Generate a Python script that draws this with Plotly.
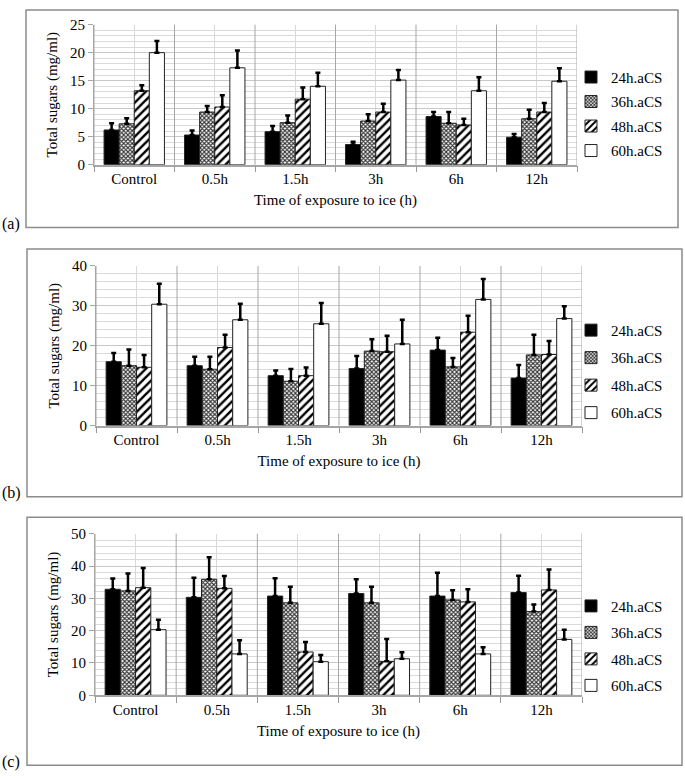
import plotly.graph_objects as go

categories = ["Control", "0.5h", "1.5h", "3h", "6h", "12h"]
series_names = ["24h.aCS", "36h.aCS", "48h.aCS", "60h.aCS"]

# Panel (a)
a_24 = [6.2, 5.3, 5.9, 3.6, 8.6, 4.9]
a_24_err = [1.2, 0.8, 1.0, 0.5, 0.8, 0.6]
a_36 = [7.3, 9.4, 7.5, 7.8, 7.4, 8.2]
a_36_err = [1.0, 1.1, 1.3, 1.2, 2.0, 1.6]
a_48 = [13.2, 10.3, 11.7, 9.4, 7.1, 9.4]
a_48_err = [1.0, 2.1, 2.1, 1.5, 1.1, 1.6]
a_60 = [20.0, 17.3, 14.0, 15.1, 13.2, 14.9]
a_60_err = [2.1, 3.1, 2.4, 1.8, 2.4, 2.3]

# Panel (b)
b_24 = [16.0, 15.0, 12.5, 14.3, 18.9, 11.9]
b_24_err = [2.2, 2.25, 1.3, 3.1, 3.1, 3.3]
b_36 = [15.0, 14.1, 11.1, 18.65, 14.7, 17.7]
b_36_err = [4.05, 3.15, 3.1, 2.95, 2.2, 5.05]
b_48 = [14.6, 19.55, 12.5, 18.5, 23.4, 17.8]
b_48_err = [3.1, 3.2, 2.05, 4.0, 4.1, 3.4]
b_60 = [30.4, 26.5, 25.5, 20.45, 31.6, 26.8]
b_60_err = [5.1, 4.0, 5.2, 6.05, 5.1, 3.1]

# Panel (c)
c_24 = [32.8, 30.3, 30.7, 31.5, 30.7, 31.8]
c_24_err = [3.3, 6.1, 5.5, 4.4, 7.2, 5.2]
c_36 = [32.3, 35.9, 28.6, 28.6, 29.5, 25.9]
c_36_err = [5.4, 6.8, 5.0, 5.0, 3.0, 2.2]
c_48 = [33.3, 33.1, 13.4, 10.5, 28.9, 32.6]
c_48_err = [6.1, 3.8, 3.1, 6.9, 3.9, 6.3]
c_60 = [20.3, 12.8, 10.4, 11.3, 12.8, 17.3]
c_60_err = [3.1, 4.2, 2.1, 2.0, 2.05, 3.0]

panels = [
    ([a_24, a_36, a_48, a_60], [a_24_err, a_36_err, a_48_err, a_60_err], 25, 5, 1),
    ([b_24, b_36, b_48, b_60], [b_24_err, b_36_err, b_48_err, b_60_err], 40, 10, 2),
    ([c_24, c_36, c_48, c_60], [c_24_err, c_36_err, c_48_err, c_60_err], 50, 10, 2),
]

FONT = "Liberation Serif"
W, H = 685, 780

def px(x):
    return x / W

def py(y):
    return 1 - y / H

styles = [
    dict(color="black", pattern=dict(shape="")),
    dict(color="white", pattern=dict(shape="x", size=3, solidity=0.6, fgcolor="#333", bgcolor="white", fillmode="replace")),
    dict(color="white", pattern=dict(shape="/", size=6, solidity=0.4, fgcolor="black", bgcolor="white", fillmode="replace")),
    dict(color="white", pattern=dict(shape="")),
]

# plot-area geometry (pixels)
plot_x = [(94, 577), (96, 582), (95, 582)]
plot_y = [(17, 160), (263.3, 426.3), (536.7, 701.7)]
legend_y = [108, 371, 651]
legend_gap = [2, 5, 4]
boxes = [(26, 2, 678, 224), (27, 246, 682, 499), (27, 520, 682, 773)]
labels = [("(a)", 221), ("(b)", 495), ("(c)", 770)]

fig = go.Figure()
xpos = list(range(len(categories)))
bounds = [k + 0.5 for k in range(-1, len(categories))]
layout = dict()
shapes = []
annotations = []

for i, (vals, errs, ymax, ydt, yminor) in enumerate(panels):
    n = "" if i == 0 else str(i + 1)
    lg = "legend" if i == 0 else f"legend{i + 1}"
    for s in range(4):
        fig.add_trace(go.Bar(
            x=xpos, y=vals[s], name=series_names[s],
            xaxis="x" + n, yaxis="y" + n, legend=lg,
            legendgroup=f"g{i}_{s}",
            marker=dict(color=styles[s]["color"], pattern=styles[s]["pattern"],
                        line=dict(color="#222", width=1)),
            error_y=dict(type="data", array=errs[s], symmetric=False,
                         arrayminus=[0] * len(errs[s]), color="black",
                         thickness=2.5, width=2.5),
        ))
    x0, x1 = plot_x[i]
    y0, y1 = plot_y[i]
    layout["xaxis" + n] = dict(
        domain=[px(x0), px(x1)], anchor="y" + n, range=[-0.5, 5.5],
        tickmode="array", tickvals=xpos, ticktext=categories,
        showgrid=True, gridcolor="#d9d9d9", gridwidth=1,
        ticks="", ticklabelstandoff=0,
        minor=dict(tickmode="array", tickvals=bounds,
                   ticks="outside", ticklen=6, tickcolor="#999",
                   showgrid=False),
        showline=True, linecolor="#a6a6a6", linewidth=1.5,
        zeroline=False,
        tickfont=dict(family=FONT, size=15, color="black"),
        title=dict(text="Time of exposure to ice (h)", standoff=8,
                   font=dict(family=FONT, size=15, color="black")),
    )
    layout["yaxis" + n] = dict(
        domain=[py(y1), py(y0)], anchor="x" + n, range=[0, ymax],
        dtick=ydt, tick0=0, showgrid=True, gridcolor="#c8c8c8", gridwidth=1,
        minor=dict(dtick=yminor, showgrid=True, gridcolor="#dadada", gridwidth=1),
        ticks="outside", ticklen=5, tickcolor="#a6a6a6",
        showline=True, linecolor="#a6a6a6", linewidth=1,
        zeroline=False,
        tickfont=dict(family=FONT, size=15, color="black"),
        title=dict(text="Total sugars (mg/ml)", standoff=8,
                   font=dict(family=FONT, size=15, color="black")),
    )
    layout[lg] = dict(
        x=px(571), xanchor="left", y=py(legend_y[i]), yanchor="middle",
        bgcolor="rgba(0,0,0,0)", tracegroupgap=legend_gap[i], itemwidth=30,
        font=dict(family=FONT, size=15, color="black"),
    )
    for b in bounds:
        shapes.append(dict(type="line", xref="x" + n, yref=f"y{n} domain",
                           x0=b, x1=b, y0=0, y1=1, layer="above",
                           line=dict(color="#a6a6a6", width=1)))
    bx0, by0, bx1, by1 = boxes[i]
    shapes.append(dict(type="rect", xref="paper", yref="paper",
                       x0=px(bx0), x1=px(bx1), y0=py(by1), y1=py(by0),
                       line=dict(color="#8c8c8c", width=1.5), layer="below"))
    annotations.append(dict(text=labels[i][0], xref="paper", yref="paper",
                            x=0, xanchor="left", y=py(labels[i][1]), yanchor="middle",
                            showarrow=False, font=dict(family=FONT, size=16, color="black")))

fig.update_layout(
    width=W, height=H, margin=dict(l=0, r=0, t=0, b=0),
    paper_bgcolor="white", plot_bgcolor="white",
    barmode="group", bargap=0.25, bargroupgap=0,
    shapes=shapes, annotations=annotations,
    **layout,
)

fig.write_html("out.html", config={"displayModeBar": False},
               post_script="document.body.style.margin='0';document.body.style.overflow='hidden';")
